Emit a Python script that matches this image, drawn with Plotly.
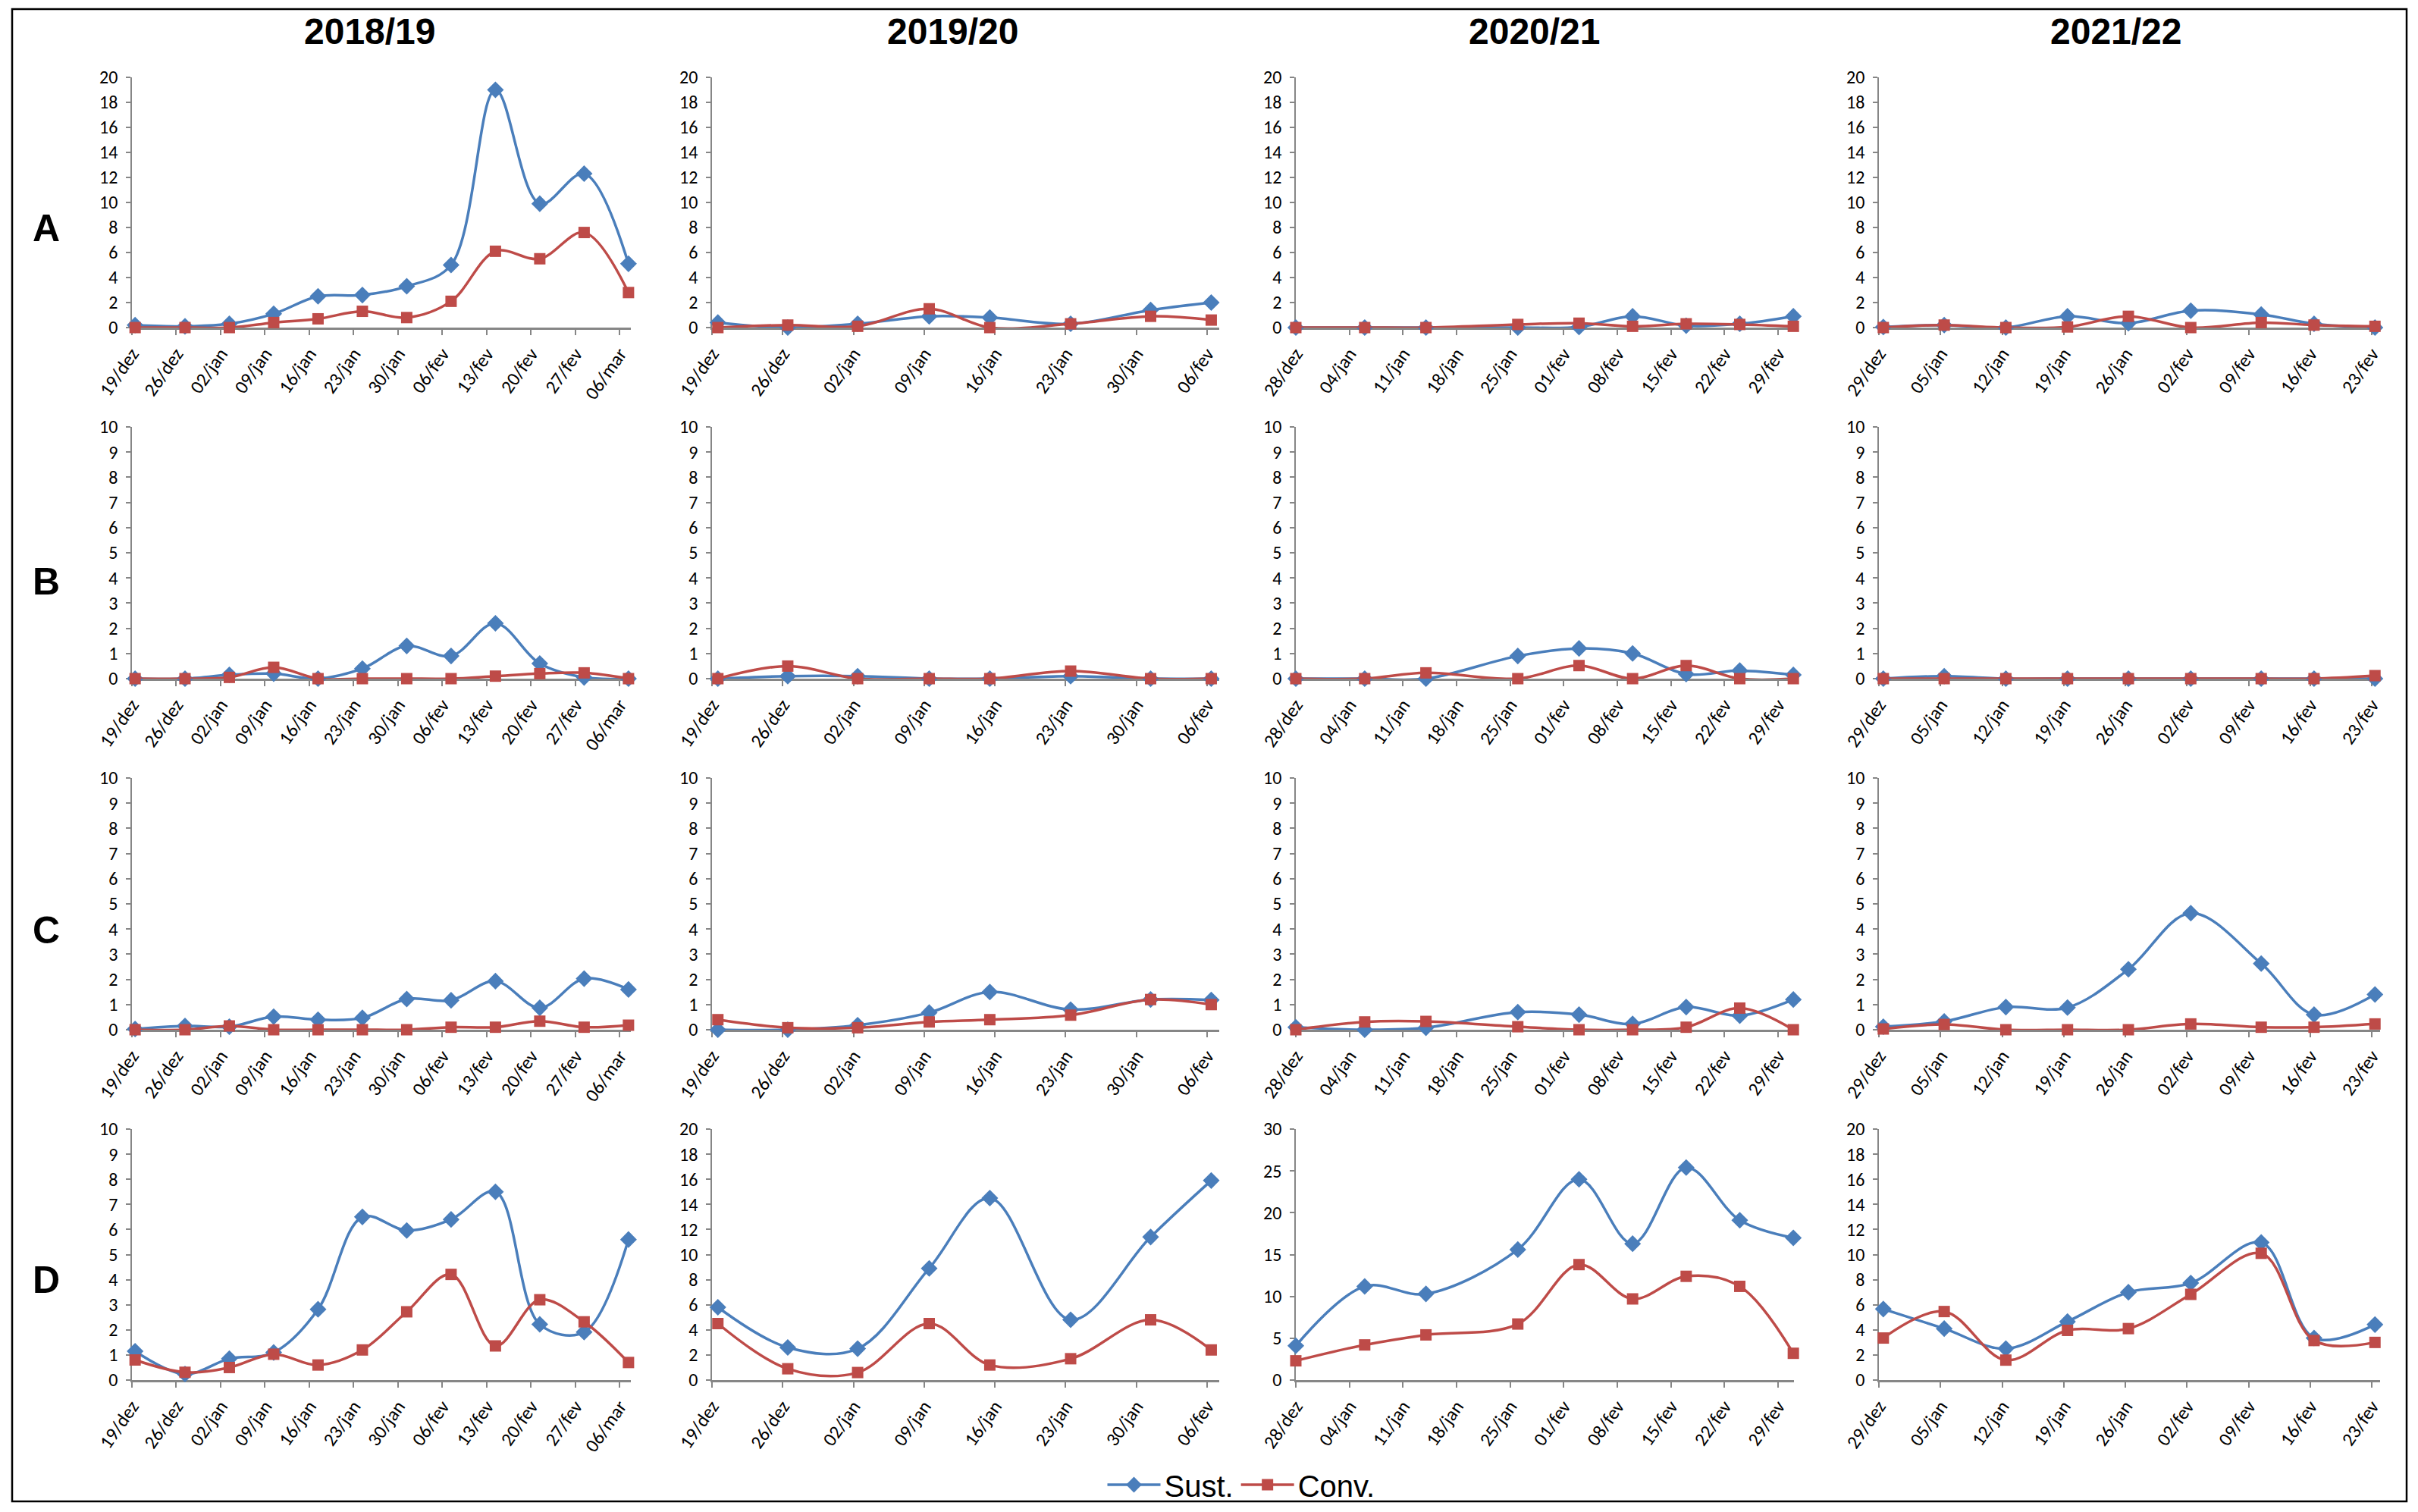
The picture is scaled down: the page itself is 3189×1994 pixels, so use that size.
import plotly.graph_objects as go

W, H = 3189, 1994
OFF = 8  # page offset compensation (px)

seasons = ["2018/19", "2019/20", "2020/21", "2021/22"]
row_letters = ["A", "B", "C", "D"]

# ---- x axis ticks (weekly) per season ----
tick_dates_1819 = ["2018-12-19", "2018-12-26", "2019-01-02", "2019-01-09", "2019-01-16", "2019-01-23",
                   "2019-01-30", "2019-02-06", "2019-02-13", "2019-02-20", "2019-02-27", "2019-03-06"]
tick_labels_1819 = ["19/dez", "26/dez", "02/jan", "09/jan", "16/jan", "23/jan",
                    "30/jan", "06/fev", "13/fev", "20/fev", "27/fev", "06/mar"]
tick_dates_1920 = ["2019-12-19", "2019-12-26", "2020-01-02", "2020-01-09", "2020-01-16", "2020-01-23",
                   "2020-01-30", "2020-02-06"]
tick_labels_1920 = ["19/dez", "26/dez", "02/jan", "09/jan", "16/jan", "23/jan", "30/jan", "06/fev"]
tick_dates_2021 = ["2019-12-28", "2020-01-04", "2020-01-11", "2020-01-18", "2020-01-25", "2020-02-01",
                   "2020-02-08", "2020-02-15", "2020-02-22", "2020-02-29"]
tick_labels_2021 = ["28/dez", "04/jan", "11/jan", "18/jan", "25/jan", "01/fev",
                    "08/fev", "15/fev", "22/fev", "29/fev"]
tick_dates_2122 = ["2021-12-29", "2022-01-05", "2022-01-12", "2022-01-19", "2022-01-26", "2022-02-02",
                   "2022-02-09", "2022-02-16", "2022-02-23"]
tick_labels_2122 = ["29/dez", "05/jan", "12/jan", "19/jan", "26/jan", "02/fev", "09/fev", "16/fev", "23/fev"]

# ---- sampling dates per season ----
dates_1819 = ["2018-12-19 12:00", "2018-12-27 09:00", "2019-01-03 09:00", "2019-01-10 09:00",
              "2019-01-17 09:00", "2019-01-24 09:00", "2019-01-31 09:00", "2019-02-07 09:00",
              "2019-02-14 09:00", "2019-02-21 09:00", "2019-02-28 09:00", "2019-03-07 09:00"]
dates_1920 = ["2019-12-19 14:00", "2019-12-26 12:00", "2020-01-02 10:00", "2020-01-09 12:00",
              "2020-01-15 12:00", "2020-01-23 12:00", "2020-01-31 10:00", "2020-02-06 10:00"]
dates_2021 = ["2019-12-28", "2020-01-06", "2020-01-14", "2020-01-26", "2020-02-03",
              "2020-02-10", "2020-02-17", "2020-02-24", "2020-03-02"]
dates_2122 = ["2021-12-29 12:00", "2022-01-05 10:00", "2022-01-12 10:00", "2022-01-19 10:00",
              "2022-01-26 08:00", "2022-02-02 10:00", "2022-02-10 10:00", "2022-02-16 10:00",
              "2022-02-23 08:00"]

# ---- values: Sust. (blue) and Conv. (red) ----
sust_A_1819 = [0.2, 0.1, 0.3, 1.1, 2.5, 2.6, 3.3, 5.0, 19.0, 9.9, 12.3, 5.1]
conv_A_1819 = [0.0, 0.0, 0.0, 0.4, 0.7, 1.3, 0.8, 2.1, 6.1, 5.5, 7.6, 2.8]
sust_A_1920 = [0.4, 0.0, 0.3, 0.9, 0.8, 0.3, 1.4, 2.0]
conv_A_1920 = [0.0, 0.2, 0.1, 1.5, 0.0, 0.3, 0.9, 0.6]
sust_A_2021 = [0.0, 0.0, 0.0, 0.0, 0.05, 0.9, 0.15, 0.3, 0.9]
conv_A_2021 = [0.0, 0.0, 0.0, 0.25, 0.35, 0.1, 0.3, 0.25, 0.1]
sust_A_2122 = [0.05, 0.2, 0.0, 0.9, 0.35, 1.35, 1.05, 0.3, 0.0]
conv_A_2122 = [0.0, 0.2, 0.0, 0.05, 0.9, 0.0, 0.4, 0.2, 0.1]

sust_B_1819 = [0.0, 0.0, 0.15, 0.2, 0.0, 0.4, 1.3, 0.9, 2.2, 0.6, 0.05, 0.0]
conv_B_1819 = [0.0, 0.0, 0.05, 0.45, 0.0, 0.0, 0.0, 0.0, 0.1, 0.2, 0.23, 0.0]
sust_B_1920 = [0.0, 0.1, 0.1, 0.0, 0.0, 0.1, 0.0, 0.0]
conv_B_1920 = [0.0, 0.5, 0.0, 0.0, 0.0, 0.3, 0.0, 0.0]
sust_B_2021 = [0.0, 0.0, 0.0, 0.9, 1.2, 1.0, 0.18, 0.32, 0.15]
conv_B_2021 = [0.0, 0.0, 0.23, 0.0, 0.52, 0.0, 0.52, 0.0, 0.0]
sust_B_2122 = [0.0, 0.1, 0.0, 0.0, 0.0, 0.0, 0.0, 0.0, 0.0]
conv_B_2122 = [0.0, 0.0, 0.0, 0.0, 0.0, 0.0, 0.0, 0.0, 0.12]

sust_C_1819 = [0.03, 0.15, 0.12, 0.52, 0.4, 0.47, 1.22, 1.17, 1.93, 0.87, 2.03, 1.6]
conv_C_1819 = [0.0, 0.0, 0.15, 0.0, 0.0, 0.0, 0.0, 0.1, 0.1, 0.34, 0.1, 0.18]
sust_C_1920 = [0.0, 0.0, 0.18, 0.68, 1.5, 0.8, 1.2, 1.18]
conv_C_1920 = [0.4, 0.08, 0.08, 0.31, 0.4, 0.58, 1.2, 1.0]
sust_C_2021 = [0.1, 0.0, 0.08, 0.7, 0.6, 0.23, 0.9, 0.56, 1.2]
conv_C_2021 = [0.0, 0.31, 0.33, 0.12, 0.0, 0.0, 0.1, 0.86, 0.0]
sust_C_2122 = [0.12, 0.33, 0.9, 0.88, 2.4, 4.63, 2.63, 0.6, 1.4]
conv_C_2122 = [0.03, 0.21, 0.0, 0.0, 0.0, 0.23, 0.1, 0.1, 0.23]

sust_D_1819 = [1.15, 0.24, 0.85, 1.1, 2.82, 6.5, 5.96, 6.4, 7.5, 2.22, 1.91, 5.6]
conv_D_1819 = [0.8, 0.31, 0.5, 1.03, 0.6, 1.2, 2.72, 4.21, 1.36, 3.2, 2.32, 0.7]
sust_D_1920 = [5.8, 2.6, 2.5, 8.9, 14.5, 4.8, 11.4, 15.9]
conv_D_1920 = [4.5, 0.9, 0.6, 4.5, 1.2, 1.7, 4.8, 2.4]
sust_D_2021 = [4.1, 11.2, 10.3, 15.6, 24.0, 16.3, 25.4, 19.1, 17.0]
conv_D_2021 = [2.3, 4.2, 5.4, 6.7, 13.8, 9.7, 12.4, 11.2, 3.2]
sust_D_2122 = [5.66, 4.1, 2.5, 4.66, 7.0, 7.73, 10.96, 3.35, 4.42]
conv_D_2122 = [3.35, 5.46, 1.59, 3.96, 4.1, 6.83, 10.1, 3.15, 3.0]

# y-axis maxima and steps per row / column
y_max = [[20, 20, 20, 20], [10, 10, 10, 10], [10, 10, 10, 10], [10, 20, 30, 20]]
y_step = [[2, 2, 2, 2], [1, 1, 1, 1], [1, 1, 1, 1], [1, 2, 5, 2]]

# ---- assemble ----
season_dates = [dates_1819, dates_1920, dates_2021, dates_2122]
season_ticks = [tick_dates_1819, tick_dates_1920, tick_dates_2021, tick_dates_2122]
season_labels = [tick_labels_1819, tick_labels_1920, tick_labels_2021, tick_labels_2122]
x_ranges = [["2018-12-19", "2019-03-07 18:00"], ["2019-12-19", "2020-02-07 05:00"],
            ["2019-12-28", "2020-03-02 02:00"], ["2021-12-29", "2022-02-23 22:00"]]
sust = [[sust_A_1819, sust_A_1920, sust_A_2021, sust_A_2122],
        [sust_B_1819, sust_B_1920, sust_B_2021, sust_B_2122],
        [sust_C_1819, sust_C_1920, sust_C_2021, sust_C_2122],
        [sust_D_1819, sust_D_1920, sust_D_2021, sust_D_2122]]
conv = [[conv_A_1819, conv_A_1920, conv_A_2021, conv_A_2122],
        [conv_B_1819, conv_B_1920, conv_B_2021, conv_B_2122],
        [conv_C_1819, conv_C_1920, conv_C_2021, conv_C_2122],
        [conv_D_1819, conv_D_1920, conv_D_2021, conv_D_2122]]

# plot-area positions in pixels (as measured on the reference)
col_px = [(174, 832), (939, 1608), (1709, 2366), (2478, 3139)]
row_px = [(102, 432), (563, 895), (1026, 1358), (1489, 1820)]


def px_x(v):
    return (v - OFF) / W


def px_y(v):
    return 1 - (v - OFF) / H


BLUE = "#4A7EBB"
RED = "#BE4B48"
AXIS = "#868686"
TICKFONT = "Carlito, Liberation Sans, Arial, sans-serif"

fig = go.Figure()
layout = dict(width=W, height=H, margin=dict(l=0, r=0, t=0, b=0, pad=0, autoexpand=False),
              paper_bgcolor="white", plot_bgcolor="white")

k = 0
for r in range(4):
    for c in range(4):
        k += 1
        xa = "x" if k == 1 else f"x{k}"
        ya = "y" if k == 1 else f"y{k}"
        first = (k == 1)
        fig.add_trace(go.Scatter(
            x=season_dates[c], y=sust[r][c], xaxis=xa, yaxis=ya,
            mode="lines+markers", name="Sust.", legendgroup="s", showlegend=first,
            line=dict(color=BLUE, width=3.5, shape="spline", smoothing=1.0),
            marker=dict(symbol="diamond", size=17, color=BLUE), cliponaxis=False))
        fig.add_trace(go.Scatter(
            x=season_dates[c], y=conv[r][c], xaxis=xa, yaxis=ya,
            mode="lines+markers", name="Conv.", legendgroup="c", showlegend=first,
            line=dict(color=RED, width=3.5, shape="spline", smoothing=1.0),
            marker=dict(symbol="square", size=15, color=RED), cliponaxis=False))
        x0, x1 = col_px[c]
        t0, b0 = row_px[r]
        xkey = "xaxis" if k == 1 else f"xaxis{k}"
        ykey = "yaxis" if k == 1 else f"yaxis{k}"
        layout[xkey] = dict(
            domain=[px_x(x0), px_x(x1)], anchor=ya, type="date", range=x_ranges[c],
            tickmode="array", tickvals=season_ticks[c], ticktext=season_labels[c],
            tickangle=-55, ticks="outside", ticklen=7, tickwidth=1.5, tickcolor=AXIS,
            showline=True, linecolor=AXIS, linewidth=3, showgrid=False, zeroline=False,
            automargin=False,
            tickfont=dict(family=TICKFONT, size=25, color="black"), layer="below traces")
        layout[ykey] = dict(
            domain=[px_y(b0), px_y(t0)], anchor=xa, range=[0, y_max[r][c]],
            tickmode="linear", tick0=0, dtick=y_step[r][c],
            ticks="outside", ticklen=6, tickwidth=1.5, tickcolor=AXIS,
            showline=True, linecolor=AXIS, linewidth=1.5, showgrid=False, zeroline=False,
            automargin=False,
            tickfont=dict(family=TICKFONT, size=24, color="black"), ticklabelstandoff=6,
            layer="below traces")

annotations = []
title_x = [488, 1257, 2024, 2791]
for s, tx in zip(seasons, title_x):
    annotations.append(dict(text=f"<b>{s}</b>", x=px_x(tx), y=px_y(42), xref="paper", yref="paper",
                            showarrow=False, xanchor="center", yanchor="middle",
                            font=dict(family="Liberation Sans, Arial, sans-serif", size=48, color="black")))
letter_y = [301, 767, 1227, 1688]
for L, ly in zip(row_letters, letter_y):
    annotations.append(dict(text=f"<b>{L}</b>", x=px_x(61), y=px_y(ly), xref="paper", yref="paper",
                            showarrow=False, xanchor="center", yanchor="middle",
                            font=dict(family="Liberation Sans, Arial, sans-serif", size=50, color="black")))
layout["annotations"] = annotations

layout["shapes"] = [dict(type="rect", xref="paper", yref="paper",
                         x0=px_x(16), x1=px_x(3174), y0=px_y(1980), y1=px_y(12),
                         line=dict(color="black", width=2.5), fillcolor="rgba(0,0,0,0)")]

layout["showlegend"] = True
layout["legend"] = dict(orientation="h", x=px_x(1637), y=px_y(1958), xanchor="center", yanchor="middle",
                        font=dict(family="Liberation Sans Narrow, Liberation Sans, Arial, sans-serif",
                                  size=40, color="black"),
                        bgcolor="rgba(0,0,0,0)", itemwidth=70, tracegroupgap=0)

fig.update_layout(**layout)
fig.write_html("out.html")
